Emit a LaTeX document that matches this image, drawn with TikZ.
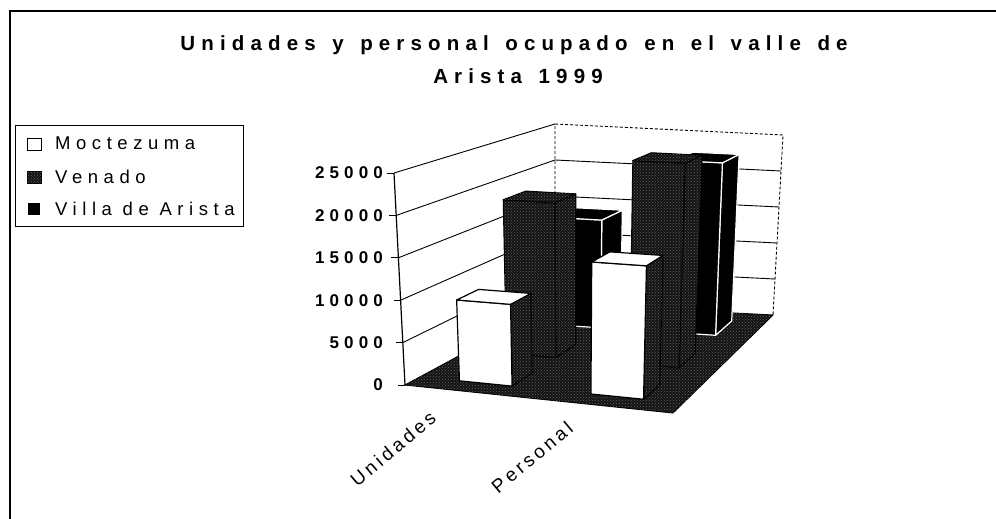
\documentclass[tikz,border=0pt]{standalone}
\usepackage{fontspec}
\setmainfont{Liberation Sans}[LetterSpace=30]
\newfontfamily\titlefont{Liberation Sans}[LetterSpace=30, WordSpace=1.4]
\newfontfamily\catfont{Liberation Sans}[LetterSpace=18]
\usetikzlibrary{patterns}

% corner points of the chart box, in pixels (y downwards)
\tikzset{
  declare function={
    fx(\ca,\de)=(1-\de)*((1-\ca)*405+\ca*673)+\de*((1-\ca)*555+\ca*773);
    fy(\ca,\de)=(1-\de)*((1-\ca)*385+\ca*413)+\de*((1-\ca)*304+\ca*315);
    tx(\ca,\de)=(1-\de)*((1-\ca)*394+\ca*680)+\de*((1-\ca)*555+\ca*783);
    ty(\ca,\de)=(1-\de)*((1-\ca)*173+\ca*188)+\de*((1-\ca)*124+\ca*135);
  },
  grid line/.style={black, line width=0.9pt},
  wall edge/.style={black, line width=0.9pt, dash pattern=on 3pt off 2pt},
  dark fill/.style={fill=black!92, postaction={pattern=crosshatch dots, pattern color=black!62}},
  floor/.style={dark fill, draw=black, line width=1pt},
  moct bar/.style={fill=white, draw=black, line width=1.2pt, line join=round},
  moct side/.style={dark fill, draw=black, line width=1.2pt, line join=round},
  venado bar/.style={dark fill, draw=black, line width=1.2pt, line join=round},
  villa bar/.style={fill=black, draw=white, line width=1.2pt, line join=round},
  tick label/.style={anchor=east, inner sep=0pt, font=\fontsize{17}{19}\selectfont\bfseries},
  legend text/.style={anchor=base west, inner sep=0pt, font=\fontsize{18.5}{21}\selectfont},
  title text/.style={anchor=base, inner sep=0pt, font=\titlefont\fontsize{20.5}{24}\selectfont\bfseries},
  cat label/.style={rotate=40, inner sep=0pt, font=\catfont\fontsize{19}{21}\selectfont},
}

% point of the box: category, depth, height (all 0..1)
\newcommand{\barpt}[3]{({(1-(#3))*fx(#1,#2)+(#3)*tx(#1,#2)},{(1-(#3))*fy(#1,#2)+(#3)*ty(#1,#2)})}
% one column: c0 c1 d0 d1 h front-style side-style
\newcommand{\colbar}[7]{%
  \path[#7] \barpt{#2}{#3}{0} -- \barpt{#2}{#4}{0} -- \barpt{#2}{#4}{#5} -- \barpt{#2}{#3}{#5} -- cycle;
  \path[#6] \barpt{#1}{#3}{0} -- \barpt{#2}{#3}{0} -- \barpt{#2}{#3}{#5} -- \barpt{#1}{#3}{#5} -- cycle;
  \path[#6] \barpt{#1}{#3}{#5} -- \barpt{#2}{#3}{#5} -- \barpt{#2}{#4}{#5} -- \barpt{#1}{#4}{#5} -- cycle;
}

\begin{document}
\begin{tikzpicture}[x=1pt, y=-1pt]
  \useasboundingbox (0,0) rectangle (996,519);
  \draw[line width=2pt] (10,519) -- (10,11) -- (996,11);

  % title
  \node[title text] (title1) at (514,51) {Unidades y personal ocupado en el valle de};
  \node[title text] (title2) at (518,84) {Arista 1999};

  % walls and grid
  \coordinate (lx) at (383,0);
  \foreach \k/\lab in {0/0,1/5000,2/10000,3/15000,4/20000,5/25000}{
    \pgfmathsetmacro{\hh}{\k/5}
    \path \barpt{0}{0}{\hh} coordinate (ax\k);
    \draw[grid line] (ax\k) -- ++(-7,0);
    \node[tick label] (lab\k) at (ax\k -| lx) {\lab};
  }
  \foreach \hh in {0.2,0.4,0.6,0.8}
    \draw[grid line] \barpt{0}{0}{\hh} -- \barpt{0}{1}{\hh} -- \barpt{1}{1}{\hh};
  \draw[grid line] \barpt{0}{0}{1} -- \barpt{0}{1}{1};
  \draw[wall edge] \barpt{0}{1}{0} -- \barpt{0}{1}{1} -- \barpt{1}{1}{1} -- \barpt{1}{1}{0};
  \draw[line width=1.2pt] \barpt{0}{0}{0} -- \barpt{0}{0}{1};

  % floor
  \path[floor] \barpt{0}{0}{0} -- \barpt{1}{0}{0} -- \barpt{1}{1}{0} -- \barpt{0}{1}{0} -- cycle;

  % columns, back row first
  \colbar{0.15}{0.35}{0.77}{0.92}{0.572}{villa bar}{villa bar}
  \colbar{0.65}{0.85}{0.77}{0.92}{0.908}{villa bar}{villa bar}
  \colbar{0.15}{0.35}{0.43}{0.58}{0.77}{venado bar}{venado bar}
  \colbar{0.65}{0.85}{0.43}{0.58}{1.0}{venado bar}{venado bar}
  \colbar{0.15}{0.35}{0.10}{0.25}{0.384}{moct bar}{moct side}
  \colbar{0.65}{0.85}{0.10}{0.25}{0.61}{moct bar}{moct side}

  % category labels
  \node[cat label] (unid) at (393,449) {Unidades};
  \node[cat label] (pers) at (532,457) {Personal};

  % legend
  \draw[line width=0.9pt] (15,125) rectangle (243,226);
  \draw[line width=1pt, fill=white] (27,138) rectangle (41,150);
  \path[dark fill, draw=black] (27,171) rectangle (41,183);
  \fill[black] (28,203) rectangle (40,215);
  \node[legend text] (leg1) at (55,149) {Moctezuma};
  \node[legend text] (leg2) at (55,183) {Venado};
  \node[legend text] (leg3) at (55,215) {Villa de Arista};
\end{tikzpicture}
\end{document}
